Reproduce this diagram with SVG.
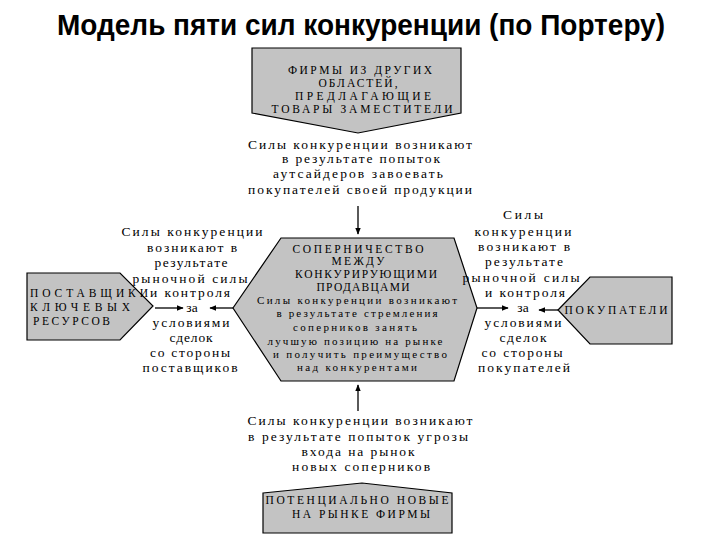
<svg xmlns="http://www.w3.org/2000/svg" width="720" height="540" viewBox="0 0 720 540">
<defs>
<style>
.box{fill:#c3c3c3;stroke:#000;stroke-width:1.2}
.t{font-family:"Liberation Serif","DejaVu Serif",serif;fill:#000;text-anchor:middle}
.cap{font-size:11.5px}
.lbl{font-size:13.5px}
.sm{font-size:11px}
.title{font-family:"Liberation Sans",Arial,sans-serif;font-weight:bold;font-size:29px;text-anchor:middle;fill:#000}
.ln{stroke:#000;stroke-width:1.3;fill:none}
</style>
<marker id="ah" viewBox="0 0 10 10" refX="9" refY="5" markerWidth="7" markerHeight="7" orient="auto" markerUnits="userSpaceOnUse">
<path d="M0,1 L10,5 L0,9 Z" fill="#000"/>
</marker>
</defs>
<rect width="720" height="540" fill="#fff"/>
<text class="title" x="361" y="35" textLength="608" lengthAdjust="spacingAndGlyphs">Модель пяти сил конкуренции (по Портеру)</text>

<g id="substitutes">
<polygon class="box" points="252,48 461,48 461,113 358,133 252,113"/>
<text class="t cap" x="360" y="74" textLength="144" lengthAdjust="spacing">ФИРМЫ ИЗ ДРУГИХ</text>
<text class="t cap" x="358" y="87" textLength="79" lengthAdjust="spacing">ОБЛАСТЕЙ,</text>
<text class="t cap" x="363" y="100" textLength="136" lengthAdjust="spacing">ПРЕДЛАГАЮЩИЕ</text>
<text class="t cap" x="362" y="113" textLength="181" lengthAdjust="spacing">ТОВАРЫ ЗАМЕСТИТЕЛИ</text>
</g>

<g id="top-label">
<text class="t lbl" x="360" y="149" textLength="224" lengthAdjust="spacing">Силы конкуренции возникают</text>
<text class="t lbl" x="361" y="163" textLength="158" lengthAdjust="spacing">в результате попыток</text>
<text class="t lbl" x="358" y="178" textLength="170" lengthAdjust="spacing">аутсайдеров завоевать</text>
<text class="t lbl" x="360" y="194" textLength="224" lengthAdjust="spacing">покупателей своей продукции</text>
</g>

<g id="rivalry">
<polygon class="box" points="281,238 454,238 477,308 454,381 281,381 233,308"/>
<text class="t cap" x="358" y="253" textLength="131" lengthAdjust="spacing">СОПЕРНИЧЕСТВО</text>
<text class="t cap" x="358" y="265" textLength="53" lengthAdjust="spacing">МЕЖДУ</text>
<text class="t cap" x="366" y="278" textLength="142" lengthAdjust="spacing">КОНКУРИРУЮЩИМИ</text>
<text class="t cap" x="363" y="291" textLength="93" lengthAdjust="spacing">ПРОДАВЦАМИ</text>
<text class="t sm" x="357" y="304" textLength="200" lengthAdjust="spacing">Силы конкуренции возникают</text>
<text class="t sm" x="357" y="317" textLength="161" lengthAdjust="spacing">в результате стремления</text>
<text class="t sm" x="355" y="331" textLength="124" lengthAdjust="spacing">соперников занять</text>
<text class="t sm" x="355" y="345" textLength="175" lengthAdjust="spacing">лучшую позицию на рынке</text>
<text class="t sm" x="360" y="358" textLength="174" lengthAdjust="spacing">и получить преимущество</text>
<text class="t sm" x="357" y="371" textLength="120" lengthAdjust="spacing">над конкурентами</text>
</g>

<g id="suppliers">
<polygon class="box" points="27,273 120,273 153,306 120,340 27,340"/>
<text class="t cap" x="30" y="297" style="text-anchor:start" textLength="118" lengthAdjust="spacing">ПОСТАВЩИКИ</text>
<text class="t cap" x="30" y="311" style="text-anchor:start" textLength="100" lengthAdjust="spacing">КЛЮЧЕВЫХ</text>
<text class="t cap" x="33" y="325" style="text-anchor:start" textLength="77" lengthAdjust="spacing">РЕСУРСОВ</text>
</g>

<g id="left-label">
<text class="t lbl" x="192" y="236" textLength="141" lengthAdjust="spacing">Силы конкуренции</text>
<text class="t lbl" x="192" y="252" textLength="90" lengthAdjust="spacing">возникают в</text>
<text class="t lbl" x="191" y="267" textLength="73" lengthAdjust="spacing">результате</text>
<text class="t lbl" x="190" y="283" textLength="115" lengthAdjust="spacing">рыночной силы</text>
<text class="t lbl" x="190" y="297" textLength="80" lengthAdjust="spacing">и контроля</text>
<text class="t lbl" x="192" y="312">за</text>
<text class="t lbl" x="191" y="327" textLength="77" lengthAdjust="spacing">условиями</text>
<text class="t lbl" x="191" y="342" textLength="43" lengthAdjust="spacing">сделок</text>
<text class="t lbl" x="190" y="357" textLength="80" lengthAdjust="spacing">со стороны</text>
<text class="t lbl" x="190" y="372" textLength="95" lengthAdjust="spacing">поставщиков</text>
</g>

<g id="buyers">
<polygon class="box" points="558,310 590,277 672,277 672,344 590,344"/>
<text class="t cap" x="616" y="314" textLength="103" lengthAdjust="spacing">ПОКУПАТЕЛИ</text>
</g>

<g id="right-label">
<text class="t lbl" x="523" y="219" textLength="40" lengthAdjust="spacing">Силы</text>
<text class="t lbl" x="523" y="236" textLength="97" lengthAdjust="spacing">конкуренции</text>
<text class="t lbl" x="524" y="251" textLength="92" lengthAdjust="spacing">возникают в</text>
<text class="t lbl" x="524" y="266" textLength="78" lengthAdjust="spacing">результате</text>
<text class="t lbl" x="521" y="282" textLength="117" lengthAdjust="spacing">рыночной силы</text>
<text class="t lbl" x="525" y="297" textLength="80" lengthAdjust="spacing">и контроля</text>
<text class="t lbl" x="523" y="312">за</text>
<text class="t lbl" x="523" y="327" textLength="77" lengthAdjust="spacing">условиями</text>
<text class="t lbl" x="523" y="342" textLength="47" lengthAdjust="spacing">сделок</text>
<text class="t lbl" x="522" y="357" textLength="81" lengthAdjust="spacing">со стороны</text>
<text class="t lbl" x="524" y="372" textLength="92" lengthAdjust="spacing">покупателей</text>
</g>

<g id="bottom-label">
<text class="t lbl" x="360" y="425" textLength="225" lengthAdjust="spacing">Силы конкуренции возникают</text>
<text class="t lbl" x="358" y="441" textLength="220" lengthAdjust="spacing">в результате попыток угрозы</text>
<text class="t lbl" x="358" y="456" textLength="113" lengthAdjust="spacing">входа на рынок</text>
<text class="t lbl" x="361" y="471" textLength="138" lengthAdjust="spacing">новых соперников</text>
</g>

<g id="new-entrants">
<polygon class="box" points="263,493 362,483 452,493 452,533 263,533"/>
<text class="t cap" x="357" y="504" textLength="183" lengthAdjust="spacing">ПОТЕНЦИАЛЬНО НОВЫЕ</text>
<text class="t cap" x="361" y="518" textLength="138" lengthAdjust="spacing">НА РЫНКЕ ФИРМЫ</text>
</g>

<g id="connectors">
<line class="ln" x1="358" y1="206" x2="358" y2="234" marker-end="url(#ah)"/>
<line class="ln" x1="358" y1="411" x2="358" y2="385" marker-end="url(#ah)"/>
<line class="ln" x1="155" y1="308" x2="183" y2="308" marker-end="url(#ah)"/>
<line class="ln" x1="233" y1="308" x2="210" y2="308" marker-end="url(#ah)"/>
<line class="ln" x1="477" y1="308" x2="508" y2="308" marker-end="url(#ah)"/>
<line class="ln" x1="558" y1="310" x2="539" y2="310" marker-end="url(#ah)"/>
</g>
</svg>
